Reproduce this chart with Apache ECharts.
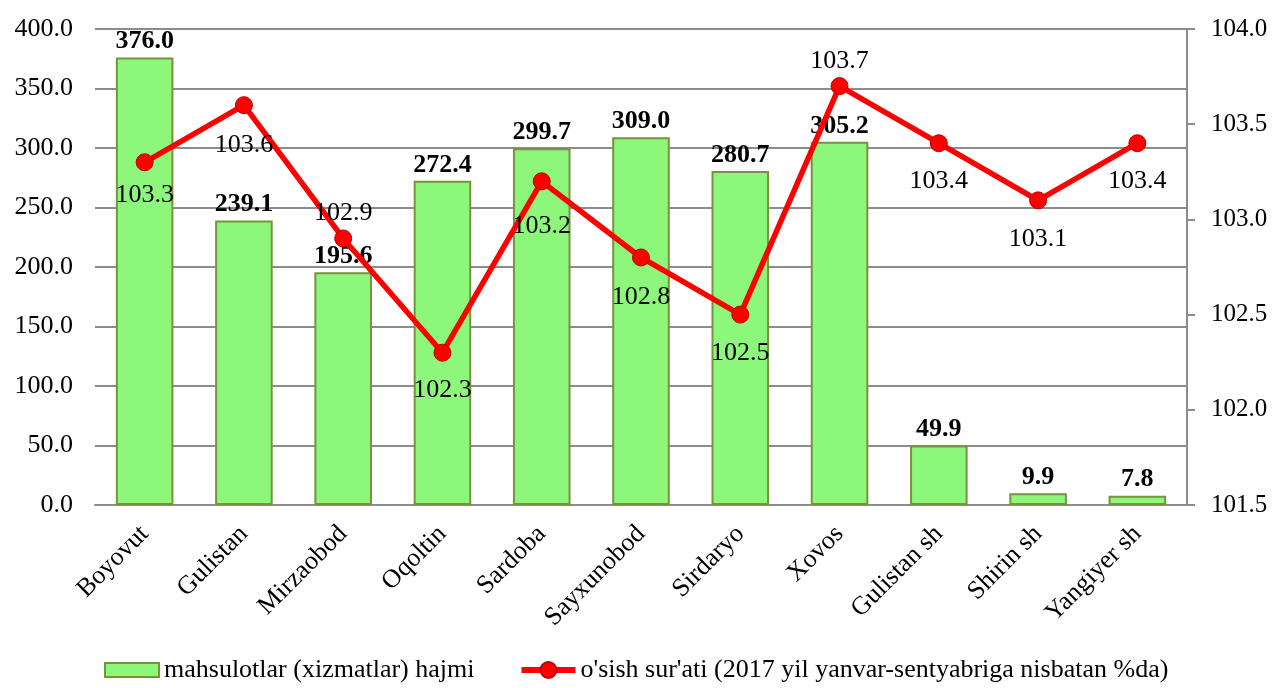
<!DOCTYPE html>
<html>
<head>
  <meta charset="utf-8">
  <title>mahsulotlar hajmi</title>
  <script src="https://cdn.jsdelivr.net/npm/echarts@6/dist/echarts.min.js"></script>
  <style>
    html, body { margin: 0; padding: 0; background: #fff; }
    #main { width: 1273px; height: 688px; }
  </style>
</head>
<body>
<div id="main"></div>
<script>
  // data
  var districts = ['Boyovut', 'Gulistan', 'Mirzaobod', 'Oqoltin', 'Sardoba', 'Sayxunobod',
    'Sirdaryo', 'Xovos', 'Gulistan sh', 'Shirin sh', 'Yangiyer sh'];
  var volume = [376.0, 239.1, 195.6, 272.4, 299.7, 309.0, 280.7, 305.2, 49.9, 9.9, 7.8];
  var growth = [103.3, 103.6, 102.9, 102.3, 103.2, 102.8, 102.5, 103.7, 103.4, 103.1, 103.4];
  var barName = 'mahsulotlar (xizmatlar) hajmi';
  var lineName = "o'sish sur'ati (2017 yil yanvar-sentyabriga nisbatan %da)";

  // where each line label sits, and how far from its marker
  var lineLabelPos = ['bottom', 'bottom', 'top', 'bottom', 'bottom', 'bottom',
    'bottom', 'top', 'bottom', 'bottom', 'bottom'];
  var lineLabelGap = [11, 18, 3, 15, 23, 18, 17, 3, 16, 17, 16];

  var font = 'Liberation Serif';
  var fmt1 = function (v) { return v.toFixed(1); };
  var chart = echarts.init(document.getElementById('main'));

  chart.setOption({
    backgroundColor: '#fff',
    animation: false,
    textStyle: { fontFamily: font, color: '#000' },
    grid: { left: 95, right: 86, top: 29, bottom: 183 },
    legend: {
      bottom: 0,
      left: 99,
      itemWidth: 54,
      itemHeight: 20,
      itemGap: 44,
      textStyle: { fontFamily: font, fontSize: 26, color: '#000' },
      data: [
        { name: barName, icon: 'path://M0,0H54V14H0Z' },
        { name: lineName, lineStyle: { width: 6 } }
      ]
    },
    xAxis: {
      type: 'category',
      data: districts,
      axisLine: { lineStyle: { color: '#8c8c8c', width: 2 } },
      axisTick: { show: false },
      axisLabel: { rotate: 45, fontFamily: font, fontSize: 26, color: '#000', margin: 25 }
    },
    yAxis: [{
      type: 'value',
      min: 0, max: 400, interval: 50,
      axisLine: { show: false },
      axisTick: { show: false },
      axisLabel: { fontFamily: font, fontSize: 26, color: '#000', margin: 22, formatter: fmt1 },
      splitLine: { lineStyle: { color: '#8c8c8c', width: 2 } }
    }, {
      type: 'value',
      min: 101.5, max: 104, interval: 0.5,
      axisLine: { show: true, lineStyle: { color: '#8c8c8c', width: 2 } },
      axisTick: { show: true, inside: false, length: 8, lineStyle: { color: '#8c8c8c', width: 2 } },
      axisLabel: { fontFamily: font, fontSize: 25, color: '#000', margin: 24, formatter: fmt1 },
      splitLine: { show: false }
    }],
    series: [{
      name: barName,
      type: 'bar',
      data: volume,
      barCategoryGap: '42%',
      itemStyle: { color: '#8cf77a', borderColor: '#77933c', borderWidth: 2 },
      label: {
        show: true, position: 'top', distance: 3,
        fontFamily: font, fontSize: 26, fontWeight: 'bold', color: '#000',
        formatter: function (p) { return fmt1(p.value); }
      },
      z: 2
    }, {
      name: lineName,
      type: 'line',
      yAxisIndex: 1,
      data: growth.map(function (v, i) {
        return { value: v, label: { position: lineLabelPos[i], distance: lineLabelGap[i] } };
      }),
      symbol: 'circle',
      symbolSize: 17,
      lineStyle: { color: '#ff0000', width: 5.5 },
      itemStyle: { color: '#ff0000', borderColor: '#c00000', borderWidth: 1 },
      label: {
        show: true,
        fontFamily: font, fontSize: 26, color: '#000',
        formatter: function (p) { return fmt1(p.value); }
      },
      z: 3
    }]
  });
</script>
</body>
</html>
